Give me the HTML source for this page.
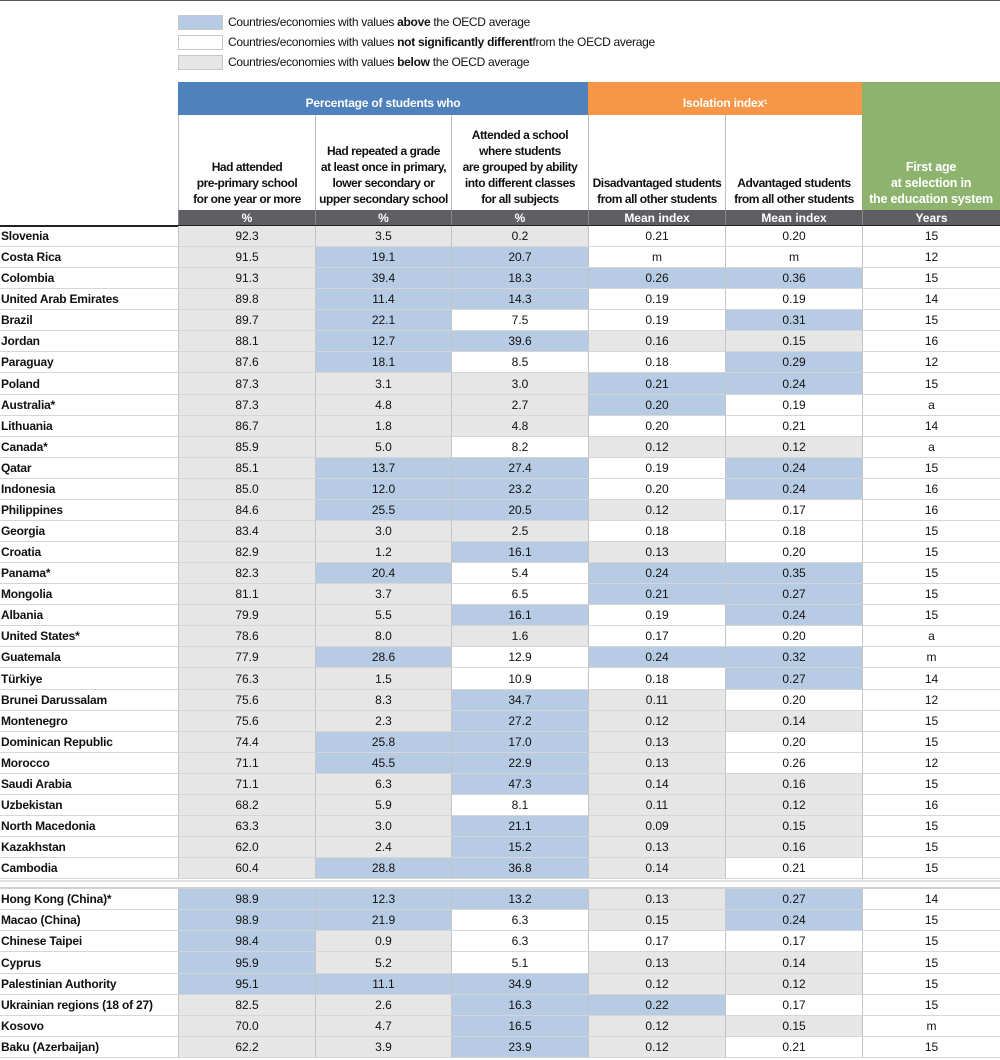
<!DOCTYPE html>
<html><head><meta charset="utf-8"><style>
body{margin:0;width:1000px;height:1060px;background:#fff;font-family:"Liberation Sans",Arial,sans-serif;position:relative;overflow:hidden}
div{position:absolute;box-sizing:border-box}
.lg{left:178px;width:45px;height:15px;border:1px solid #c8c8c8}
.lt{left:228px;font-size:12px;color:#111;white-space:nowrap;letter-spacing:-0.3px}
.h{color:#fff;font-weight:bold;font-size:12px;text-align:center;display:flex;align-items:center;justify-content:center;letter-spacing:-0.2px}
.sh{top:115px;height:95px;font-weight:bold;font-size:12px;text-align:center;display:flex;align-items:flex-end;justify-content:center;padding-bottom:3px;line-height:16px;color:#111;border-left:1px solid #bbb;white-space:nowrap;letter-spacing:-0.45px}
.band{top:210px;height:16px;background:#5f5e63;color:#fff;font-weight:bold;font-size:12px;text-align:center;line-height:16px;border-left:1px solid #888}
.c{font-size:12px;text-align:center;color:#111;border-left:1px solid #c4c4c4;border-bottom:1px solid #d6d6d6;display:flex;align-items:center;justify-content:center}
.n{left:0;width:178px;font-size:12px;font-weight:bold;color:#111;border-bottom:1px solid #d6d6d6;display:flex;align-items:center;padding-left:1px;white-space:nowrap;letter-spacing:-0.2px}
</style></head><body>
<div style="left:0;top:0;width:1000px;height:1px;background:#555"></div>
<div class="lg" style="top:15px;background:#b7cce4"></div>
<div class="lt" style="top:15px">Countries/economies with values <b>above</b> the OECD average</div>
<div class="lg" style="top:35px;background:#fff"></div>
<div class="lt" style="top:35px">Countries/economies with values <b>not significantly different</b>from the OECD average</div>
<div class="lg" style="top:55px;background:#e6e6e6"></div>
<div class="lt" style="top:55px">Countries/economies with values <b>below</b> the OECD average</div>

<div class="h" style="left:178px;top:82px;width:410px;height:33px;background:#4f81bd;padding-top:8px">Percentage of students who</div>
<div class="h" style="left:588px;top:82px;width:274px;height:33px;background:#f79646;padding-top:8px">Isolation index<sup style="font-size:6px">1</sup></div>
<div class="h" style="left:862px;top:82px;width:138px;height:128px;background:#8db36f;align-items:flex-end;padding-bottom:3px;line-height:16px;font-size:12.5px">First age<br>at selection in<br>the education system</div>
<div class="sh" style="left:178px;width:137px">Had attended<br>pre-primary school<br>for one year or more</div>
<div class="sh" style="left:315px;width:136px">Had repeated a grade<br>at least once in primary,<br>lower secondary or<br>upper secondary school</div>
<div class="sh" style="left:451px;width:137px">Attended a school<br>where students<br>are grouped by ability<br>into different classes<br>for all subjects</div>
<div class="sh" style="left:588px;width:137px">Disadvantaged students<br>from all other students</div>
<div class="sh" style="left:725px;width:137px">Advantaged students<br>from all other students</div>
<div class="band" style="left:178px;width:137px">%</div>
<div class="band" style="left:315px;width:136px">%</div>
<div class="band" style="left:451px;width:137px">%</div>
<div class="band" style="left:588px;width:137px">Mean index</div>
<div class="band" style="left:725px;width:137px">Mean index</div>
<div class="band" style="left:862px;width:138px">Years</div>
<div style="left:0;top:225px;width:1000px;height:2px;background:#222"></div>
<div id="t"></div>
<script>
var D=[
["Slovenia","92.3g","3.5g","0.2g","0.21w","0.20w","15"],
["Costa Rica","91.5g","19.1b","20.7b","mw","mw","12"],
["Colombia","91.3g","39.4b","18.3b","0.26b","0.36b","15"],
["United Arab Emirates","89.8g","11.4b","14.3b","0.19w","0.19w","14"],
["Brazil","89.7g","22.1b","7.5w","0.19w","0.31b","15"],
["Jordan","88.1g","12.7b","39.6b","0.16g","0.15g","16"],
["Paraguay","87.6g","18.1b","8.5w","0.18w","0.29b","12"],
["Poland","87.3g","3.1g","3.0g","0.21b","0.24b","15"],
["Australia*","87.3g","4.8g","2.7g","0.20b","0.19w","a"],
["Lithuania","86.7g","1.8g","4.8g","0.20w","0.21w","14"],
["Canada*","85.9g","5.0g","8.2w","0.12g","0.12g","a"],
["Qatar","85.1g","13.7b","27.4b","0.19w","0.24b","15"],
["Indonesia","85.0g","12.0b","23.2b","0.20w","0.24b","16"],
["Philippines","84.6g","25.5b","20.5b","0.12g","0.17w","16"],
["Georgia","83.4g","3.0g","2.5g","0.18w","0.18w","15"],
["Croatia","82.9g","1.2g","16.1b","0.13g","0.20w","15"],
["Panama*","82.3g","20.4b","5.4w","0.24b","0.35b","15"],
["Mongolia","81.1g","3.7g","6.5w","0.21b","0.27b","15"],
["Albania","79.9g","5.5g","16.1b","0.19w","0.24b","15"],
["United States*","78.6g","8.0g","1.6g","0.17w","0.20w","a"],
["Guatemala","77.9g","28.6b","12.9w","0.24b","0.32b","m"],
["Türkiye","76.3g","1.5g","10.9w","0.18w","0.27b","14"],
["Brunei Darussalam","75.6g","8.3g","34.7b","0.11g","0.20w","12"],
["Montenegro","75.6g","2.3g","27.2b","0.12g","0.14g","15"],
["Dominican Republic","74.4g","25.8b","17.0b","0.13g","0.20w","15"],
["Morocco","71.1g","45.5b","22.9b","0.13g","0.26w","12"],
["Saudi Arabia","71.1g","6.3g","47.3b","0.14g","0.16g","15"],
["Uzbekistan","68.2g","5.9g","8.1w","0.11g","0.12g","16"],
["North Macedonia","63.3g","3.0g","21.1b","0.09g","0.15g","15"],
["Kazakhstan","62.0g","2.4g","15.2b","0.13g","0.16g","15"],
["Cambodia","60.4g","28.8b","36.8b","0.14g","0.21w","15"],
["Hong Kong (China)*","98.9b","12.3b","13.2b","0.13g","0.27b","14"],
["Macao (China)","98.9b","21.9b","6.3w","0.15g","0.24b","15"],
["Chinese Taipei","98.4b","0.9g","6.3w","0.17w","0.17w","15"],
["Cyprus","95.9b","5.2g","5.1w","0.13g","0.14g","15"],
["Palestinian Authority","95.1b","11.1b","34.9b","0.12g","0.12g","15"],
["Ukrainian regions (18 of 27)","82.5g","2.6g","16.3b","0.22b","0.17w","15"],
["Kosovo","70.0g","4.7g","16.5b","0.12g","0.15g","m"],
["Baku (Azerbaijan)","62.2g","3.9g","23.9b","0.12g","0.21w","15"]];
var X=[178,315,451,588,725,862,1000],C={b:"#b7cce4",g:"#e6e6e6",w:"#fff"},h="";
D.forEach(function(r,i){
 var top=i<31?226+i*21.07:889+(i-31)*21.14,t=Math.round(top),hh=Math.round(top+(i<31?21.07:21.14))-t;
 h+='<div class="n" style="top:'+t+'px;height:'+hh+'px">'+r[0]+'</div>';
 for(var k=1;k<7;k++){var v=r[k],col="w";if(k<6){col=v.slice(-1);v=v.slice(0,-1);}
 h+='<div class="c" style="left:'+X[k-1]+'px;width:'+(X[k]-X[k-1])+'px;top:'+t+'px;height:'+hh+'px;background:'+C[col]+'">'+v+'</div>';}
});
h+='<div style="left:0;top:880px;width:1000px;height:9px;background:#fff;border-top:2px solid #e0e0e0;border-bottom:2px solid #d0d0d0"></div>';
document.getElementById("t").innerHTML=h;
</script>
</body></html>
